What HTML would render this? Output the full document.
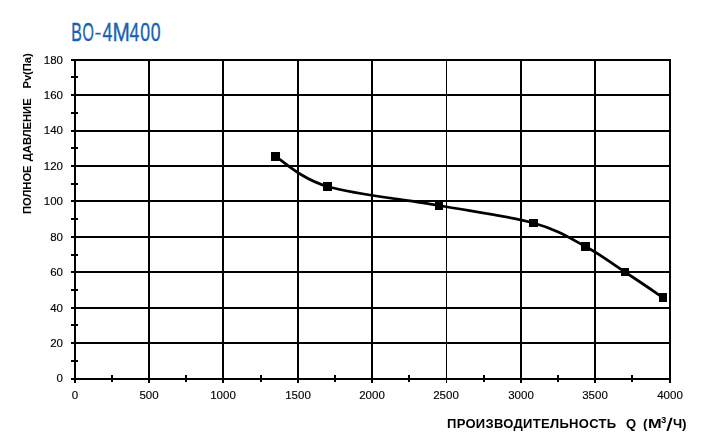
<!DOCTYPE html>
<html><head><meta charset="utf-8"><title>ВО-4М400</title>
<style>
html,body{margin:0;padding:0;background:#fff;}
body{width:708px;height:444px;position:relative;overflow:hidden;font-family:"Liberation Sans",sans-serif;color:#000;}
svg{position:absolute;left:0;top:0;}
.yl{position:absolute;left:20px;width:43px;text-align:right;font-size:11.5px;line-height:14px;height:14px;will-change:transform;-webkit-text-stroke:0.15px #000;}
.xl{position:absolute;top:388px;width:60px;text-align:center;font-size:11.5px;line-height:14px;height:14px;will-change:transform;-webkit-text-stroke:0.15px #000;}
.xt{position:absolute;top:416px;will-change:transform;font-size:13px;line-height:16px;font-weight:bold;white-space:pre;}
.yt{position:absolute;left:20px;top:214.3px;font-size:11.2px;line-height:14px;font-weight:bold;white-space:pre;transform-origin:0 0;transform:rotate(-90deg);}
</style></head><body>
<svg width="708" height="444" viewBox="0 0 708 444">
<g shape-rendering="crispEdges">
<rect x="71" y="59" width="600" height="2" fill="#000"/>
<rect x="71" y="94" width="600" height="2" fill="#000"/>
<rect x="71" y="130" width="600" height="2" fill="#000"/>
<rect x="71" y="165" width="600" height="2" fill="#000"/>
<rect x="71" y="200" width="600" height="2" fill="#000"/>
<rect x="71" y="236" width="600" height="2" fill="#000"/>
<rect x="71" y="271" width="600" height="2" fill="#000"/>
<rect x="71" y="307" width="600" height="2" fill="#000"/>
<rect x="71" y="342" width="600" height="2" fill="#000"/>
<rect x="71" y="378" width="600" height="2" fill="#000"/>
<rect x="71" y="76" width="7" height="2" fill="#000"/>
<rect x="71" y="112" width="7" height="2" fill="#000"/>
<rect x="71" y="147" width="7" height="2" fill="#000"/>
<rect x="71" y="183" width="7" height="2" fill="#000"/>
<rect x="71" y="218" width="7" height="2" fill="#000"/>
<rect x="71" y="254" width="7" height="2" fill="#000"/>
<rect x="71" y="289" width="7" height="2" fill="#000"/>
<rect x="71" y="324" width="7" height="2" fill="#000"/>
<rect x="71" y="360" width="7" height="2" fill="#000"/>
<rect x="74" y="59" width="2" height="324" fill="#000"/>
<rect x="148" y="59" width="2" height="324" fill="#000"/>
<rect x="222" y="59" width="2" height="324" fill="#000"/>
<rect x="297" y="59" width="2" height="324" fill="#000"/>
<rect x="371" y="59" width="2" height="324" fill="#000"/>
<rect x="446" y="59" width="1" height="324" fill="#000"/>
<rect x="520" y="59" width="2" height="324" fill="#000"/>
<rect x="594" y="59" width="2" height="324" fill="#000"/>
<rect x="669" y="59" width="2" height="324" fill="#000"/>
<rect x="111" y="375" width="2" height="7" fill="#000"/>
<rect x="185" y="375" width="2" height="7" fill="#000"/>
<rect x="260" y="375" width="2" height="7" fill="#000"/>
<rect x="334" y="375" width="2" height="7" fill="#000"/>
<rect x="408" y="375" width="2" height="7" fill="#000"/>
<rect x="483" y="375" width="2" height="7" fill="#000"/>
<rect x="557" y="375" width="2" height="7" fill="#000"/>
<rect x="631" y="375" width="2" height="7" fill="#000"/>
</g>
<path d="M275.5,156.5 C284.17,161.50 300.25,178.33 327.5,186.5 C354.75,194.67 404.67,199.42 439,205.5 C473.33,211.58 509.08,216.17 533.5,223 C557.92,229.83 570.25,238.33 585.5,246.5 C600.75,254.67 612.08,263.50 625,272 C637.92,280.50 656.67,293.25 663,297.5" fill="none" stroke="#000" stroke-width="2.7" stroke-linecap="round"/>
<g fill="#1763b0" stroke="#1763b0" stroke-width="0.35" font-family="Liberation Sans, sans-serif">
<text transform="translate(71.32,40.5) scale(0.6106,1)" font-size="26" vector-effect="non-scaling-stroke">В</text>
<text transform="translate(82.43,40.5) scale(0.5606,1)" font-size="26" vector-effect="non-scaling-stroke">О</text>
<text transform="translate(102.62,40.5) scale(0.6830,1)" font-size="26" vector-effect="non-scaling-stroke">4</text>
<text transform="translate(112.42,40.5) scale(0.8020,1)" font-size="26" vector-effect="non-scaling-stroke">М</text>
<text transform="translate(129.62,40.5) scale(0.6754,1)" font-size="26" vector-effect="non-scaling-stroke">4</text>
<text transform="translate(140.23,40.5) scale(0.6799,1)" font-size="26" vector-effect="non-scaling-stroke">0</text>
<text transform="translate(150.83,40.5) scale(0.6799,1)" font-size="26" vector-effect="non-scaling-stroke">0</text>
<rect x="95.4" y="32.8" width="5.4" height="1.7" stroke="none"/>
</g>
<polygon points="670.5,417.7 672.6,417.7 668.4,430.9 666.3,430.9" fill="#000"/>
<g shape-rendering="crispEdges">
<rect x="271" y="152" width="9" height="9" fill="#000"/>
<rect x="323" y="182" width="9" height="9" fill="#000"/>
<rect x="435" y="201" width="8" height="9" fill="#000"/>
<rect x="529" y="219" width="9" height="8" fill="#000"/>
<rect x="581" y="242" width="9" height="9" fill="#000"/>
<rect x="621" y="268" width="8" height="8" fill="#000"/>
<rect x="659" y="293" width="8" height="9" fill="#000"/>
</g>
</svg>
<div class="yl" style="top:53px">180</div>
<div class="yl" style="top:88px">160</div>
<div class="yl" style="top:123px">140</div>
<div class="yl" style="top:159px">120</div>
<div class="yl" style="top:194px">100</div>
<div class="yl" style="top:230px">80</div>
<div class="yl" style="top:265px">60</div>
<div class="yl" style="top:301px">40</div>
<div class="yl" style="top:336px">20</div>
<div class="yl" style="top:371px">0</div>
<div class="xl" style="left:45px">0</div>
<div class="xl" style="left:119px">500</div>
<div class="xl" style="left:193px">1000</div>
<div class="xl" style="left:268px">1500</div>
<div class="xl" style="left:342px">2000</div>
<div class="xl" style="left:416px">2500</div>
<div class="xl" style="left:491px">3000</div>
<div class="xl" style="left:565px">3500</div>
<div class="xl" style="left:640px">4000</div>
<div class="xt" style="left:447px;letter-spacing:0.3px">ПРОИЗВОДИТЕЛЬНОСТЬ</div>
<div class="xt" style="left:626px">Q</div>
<div class="xt" style="left:643px;font-size:13.5px">(</div>
<div class="xt" style="left:648px;transform-origin:0 50%;transform:scaleX(1.26)">М</div>
<div class="xt" style="left:661px;font-size:9.5px;top:411.5px">3</div>
<div class="xt" style="left:673px">Ч</div>
<div class="xt" style="left:682px;font-size:13.5px">)</div>
<div class="yt">ПОЛНОЕ <span style="margin-left:1.2px">ДАВЛЕНИЕ</span>  <span style="margin-left:3.6px">Pv(Па)</span></div>
</body></html>
